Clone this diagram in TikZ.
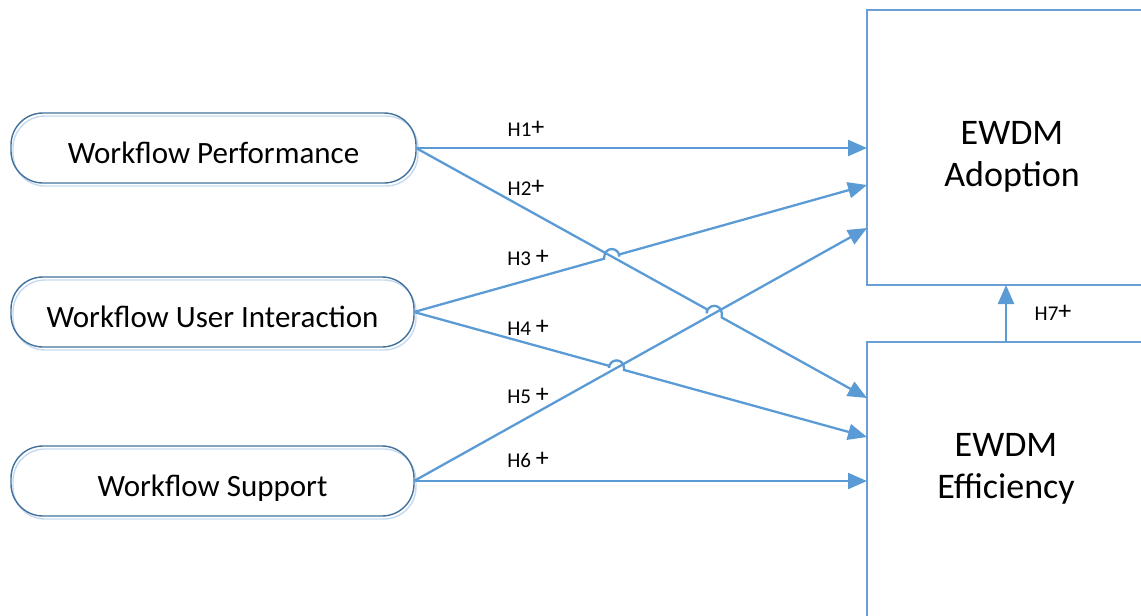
\documentclass[tikz,border=0pt]{standalone}
\usepackage{fontspec}
\setmainfont{Carlito}
\usetikzlibrary{arrows.meta,backgrounds,calc}
\definecolor{linkblue}{HTML}{5B9BD5}
\definecolor{rim}{HTML}{41719C}
\definecolor{rimshade}{HTML}{C6DAEF}
\definecolor{boxline}{HTML}{6A9FD6}

\newcommand{\plussign}{\raisebox{1.5pt}{\fontsize{26}{26}\selectfont+}}

\begin{document}
\begin{tikzpicture}[x=1pt,y=-1pt,
  factor/.style={draw=rim, line width=1.4pt, rounded corners=32pt,
    minimum height=70pt, outer sep=0pt, inner sep=0pt,
    text height=30pt, text depth=0pt, font=\fontsize{31}{37}\selectfont},
  factorshade/.style={draw=rimshade, line width=1.4pt, rounded corners=32pt},
  outcome/.style={draw=boxline, line width=1.5pt, minimum width=290pt,
    outer sep=0pt, inner sep=0pt},
  outtext/.style={align=center, inner sep=0pt, font=\fontsize{36}{42}\selectfont},
  conn/.style={draw=linkblue, line width=2.3pt,
    -{Triangle[length=19pt,width=16pt]}},
  hyp/.style={font=\fontsize{21}{25}\selectfont, inner sep=0pt},
  hop/.style={start angle=180, end angle=0, radius=7.5pt}
]
\useasboundingbox (0,0) rectangle (1141,616);

% predictor boxes
\node[factor, minimum width=405pt] (wp)  at (213.5,148) {Workflow Performance};
\node[factor, minimum width=403pt] (wui) at (212.5,312) {Workflow User Interaction};
\node[factor, minimum width=403pt] (ws)  at (212.5,481) {Workflow Support};

% outcome boxes (running off the right and bottom edges)
\node[outcome, minimum height=275pt] (ad) at (1012,147.5) {};
\node[outcome, minimum height=310pt] (ef) at (1012,497) {};
\node[outtext] (adt) at (1012,157) {EWDM\\Adoption};
\node[outtext] (eft) at (1006,469) {EWDM\\Efficiency};

% soft shadows behind the predictor boxes
\begin{scope}[on background layer]
  \foreach \n in {wp,wui,ws}{
    \draw[factorshade] ($(\n.south west)+(2,3)$) rectangle ($(\n.north east)+(2,3)$);
  }
\end{scope}

% arrow end points on the outcome boxes
\coordinate (a1) at (867,148);
\coordinate (a3) at (867,185);
\coordinate (a5) at (867,228);
\coordinate (e2) at (867,398);
\coordinate (e4) at (867,437);
\coordinate (e6) at (867,481);
\coordinate (e7) at (1006,342);
\coordinate (a7) at (1006,285);

% line hops at the crossings
\coordinate (h3l) at (604.313,258.645);
\coordinate (h3a) at (604.313,256.543);
\coordinate (h3r) at (619.313,254.440);
\coordinate (h2l) at (706.736,309.161);
\coordinate (h2a) at (706.736,313.318);
\coordinate (h2r) at (721.736,317.476);
\coordinate (h4l) at (609.030,365.816);
\coordinate (h4a) at (609.030,367.886);
\coordinate (h4r) at (624.030,369.955);

% hypothesised paths
\draw[conn] (wp.east) -- (a1);
\draw[conn] (wp.east) -- (h2l) -- (h2a) arc[hop] -- (h2r) -- (e2);
\draw[conn] (wui.east) -- (h3l) -- (h3a) arc[hop] -- (h3r) -- (a3);
\draw[conn] (wui.east) -- (h4l) -- (h4a) arc[hop] -- (h4r) -- (e4);
\draw[conn] (ws.east) -- (a5);
\draw[conn] (ws.east) -- (e6);
\draw[conn] (e7) -- (a7);

% hypothesis labels
\node[hyp] (l1) at (526,129) {H1\plussign};
\node[hyp] (l2) at (526,188) {H2\plussign};
\node[hyp] (l3) at (528,258) {H3 \plussign};
\node[hyp] (l4) at (528,328) {H4 \plussign};
\node[hyp] (l5) at (528,396) {H5 \plussign};
\node[hyp] (l6) at (528,460) {H6 \plussign};
\node[hyp] (l7) at (1053,313) {H7\plussign};
\end{tikzpicture}
\end{document}
